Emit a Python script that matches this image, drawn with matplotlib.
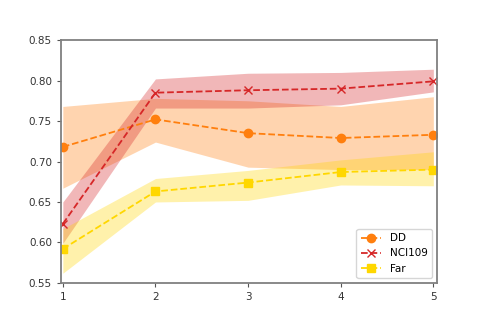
import matplotlib.pyplot as plt

steps = [1, 2, 3, 4, 5]

dd_mean = [0.718, 0.752, 0.735, 0.729, 0.733]
dd_low = [0.667, 0.724, 0.693, 0.690, 0.690]
dd_high = [0.768, 0.778, 0.775, 0.768, 0.780]

nci_mean = [0.623, 0.785, 0.788, 0.790, 0.799]
nci_low = [0.599, 0.766, 0.766, 0.770, 0.786]
nci_high = [0.650, 0.802, 0.809, 0.810, 0.814]

far_mean = [0.592, 0.663, 0.674, 0.687, 0.690]
far_low = [0.562, 0.650, 0.652, 0.671, 0.670]
far_high = [0.617, 0.679, 0.689, 0.702, 0.712]

fig = plt.figure(figsize=(4.84, 3.23), dpi=100)
ax = fig.add_axes([0.126, 0.124, 0.777, 0.752])

series = [
    ('DD', dd_mean, dd_low, dd_high, '#ff7f0e', 'o'),
    ('NCI109', nci_mean, nci_low, nci_high, '#d62728', 'x'),
    ('Far', far_mean, far_low, far_high, '#ffd700', 's'),
]

for name, mean, low, high, color, marker in series:
    ax.plot(steps, mean, linestyle='--', marker=marker, color=color,
            label=name, linewidth=1.3, markersize=6)
    ax.fill_between(steps, low, high, color=color, alpha=0.33, linewidth=0)

ax.set_xlim(0.98, 5.04)
ax.set_ylim(0.55, 0.85)
ax.set_xticks(steps)
ax.set_yticks([0.55, 0.60, 0.65, 0.70, 0.75, 0.80, 0.85])
ax.tick_params(labelsize=7.5, length=3, color='#555555', labelcolor='#333333')

for sp in ax.spines.values():
    sp.set_color('#808080')
    sp.set_linewidth(1.3)

ax.legend(loc='lower right', fontsize=7.5)

fig.savefig('out.png', dpi=100)
